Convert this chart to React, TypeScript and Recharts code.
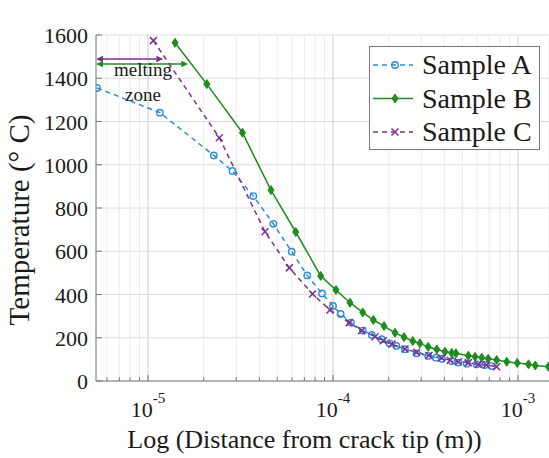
import { LineChart, Line, XAxis, YAxis, CartesianGrid, ReferenceLine } from "recharts";

// distances in metres, temperatures in °C
const sampleADist = [
  5.3e-6, 1.16e-5, 2.27e-5, 2.86e-5, 3.71e-5, 4.76e-5, 5.98e-5, 7.26e-5, 8.72e-5, 1.0e-4,
  1.1e-4, 1.25e-4, 1.45e-4, 1.62e-4, 1.83e-4, 2.02e-4, 2.2e-4, 2.45e-4, 2.83e-4, 3.27e-4,
  3.6e-4, 3.87e-4, 4.38e-4, 4.76e-4, 5.29e-4, 5.99e-4, 6.63e-4, 7.21e-4,
];
const sampleATemp = [
  1355, 1241, 1043, 971, 855, 727, 598, 488, 405, 347,
  310, 270, 233, 213, 193, 174, 162, 147, 128, 116,
  108, 103, 92, 85, 80, 77, 74, 69,
];

const sampleBDist = [
  1.4e-5, 2.08e-5, 3.24e-5, 4.62e-5, 6.29e-5, 8.58e-5, 1.038e-4, 1.236e-4, 1.448e-4, 1.653e-4,
  1.888e-4, 2.164e-4, 2.42e-4, 2.7e-4, 2.95e-4, 3.27e-4, 3.64e-4, 4.03e-4, 4.38e-4, 4.62e-4,
  5.39e-4, 5.86e-4, 6.37e-4, 6.9e-4, 7.67e-4, 8.69e-4, 9.91e-4, 1.14e-3, 1.24e-3, 1.46e-3,
];
const sampleBTemp = [
  1564, 1373, 1148, 883, 689, 486, 421, 362, 317, 282,
  254, 223, 203, 185, 174, 158, 146, 135, 130, 128,
  117, 112, 108, 103, 97, 89, 83, 77, 72, 66,
];

const sampleCDist = [
  1.07e-5, 2.43e-5, 4.29e-5, 5.81e-5, 7.76e-5, 9.63e-5, 1.225e-4, 1.43e-4, 1.687e-4, 1.87e-4,
  2.08e-4, 2.45e-4, 2.83e-4, 3.3e-4, 3.87e-4, 4.3e-4, 4.76e-4, 5.39e-4, 6.1e-4, 6.75e-4, 7.67e-4,
];
const sampleCTemp = [
  1574, 1125, 690, 523, 402, 328, 270, 233, 205, 186,
  171, 148, 133, 118, 106, 96, 89, 85, 77, 74, 66,
];

const majorX = [1e-5, 1e-4, 1e-3];
const minorX = [
  6e-6, 7e-6, 8e-6, 9e-6,
  2e-5, 3e-5, 4e-5, 5e-5, 6e-5, 7e-5, 8e-5, 9e-5,
  2e-4, 3e-4, 4e-4, 5e-4, 6e-4, 7e-4, 8e-4, 9e-4,
];
const allX = [...majorX, ...minorX].sort((a, b) => a - b);
const yTicks = [0, 200, 400, 600, 800, 1000, 1200, 1400, 1600];
const xDomain = [5.235e-6, 1.471e-3];

// melting zone arrows
const meltC = { from: 5.235e-6, to: 1.21e-5, temp: 1489 };
const meltB = { from: 5.235e-6, to: 1.65e-5, temp: 1466 };

const BLUE = "#2b8cd8";
const GREEN = "#1f8c1f";
const PURPLE = "#7e2f8e";
const AXIS = "#7a7a7a";
const TEXT = "#1a1a1a";
const SERIF = "'Liberation Serif', 'Times New Roman', serif";

const rows = (d: number[], t: number[]) => d.map((x, i) => ({ x, y: t[i] }));
const rowsA = rows(sampleADist, sampleATemp);
const rowsB = rows(sampleBDist, sampleBTemp);
const rowsC = rows(sampleCDist, sampleCTemp);

const circleDot = (p: any) => (
  <circle key={`a${p.index}`} cx={p.cx} cy={p.cy} r={3.2} fill="none" stroke={BLUE} strokeWidth={1.4} strokeDasharray="none" />
);
const diamondDot = (p: any) => (
  <polygon
    key={`b${p.index}`}
    points={`${p.cx},${p.cy - 4.5} ${p.cx + 3},${p.cy} ${p.cx},${p.cy + 4.5} ${p.cx - 3},${p.cy}`}
    fill={GREEN}
    stroke={GREEN}
    strokeWidth={1}
  />
);
const crossDot = (p: any) => (
  <g key={`c${p.index}`} stroke={PURPLE} strokeWidth={1.5}>
    <line x1={p.cx - 3.5} y1={p.cy - 3.5} x2={p.cx + 3.5} y2={p.cy + 3.5} />
    <line x1={p.cx - 3.5} y1={p.cy + 3.5} x2={p.cx + 3.5} y2={p.cy - 3.5} />
  </g>
);

function BottomTick({ x, y, payload }: any) {
  const major = majorX.includes(payload.value);
  const exp = Math.round(Math.log10(payload.value));
  return (
    <g>
      <line x1={x} y1={y} x2={x} y2={y - (major ? 6 : 4)} stroke={AXIS} />
      {major && (
        <text x={x} y={y + 36} textAnchor="middle" fontFamily={SERIF} fontSize={22} fill={TEXT}>
          10
          <tspan dy={-14} fontSize={15}>{`-${-exp}`}</tspan>
        </text>
      )}
    </g>
  );
}

function TopTick({ x, y, payload }: any) {
  const major = majorX.includes(payload.value);
  return <line x1={x} y1={y} x2={x} y2={y + (major ? 6 : 4)} stroke={AXIS} />;
}

function LeftTick({ x, y, payload }: any) {
  return (
    <g>
      <line x1={x} y1={y} x2={x + 6} y2={y} stroke={AXIS} />
      <text x={x - 8} y={y + 8} textAnchor="end" fontFamily={SERIF} fontSize={22} fill={TEXT}>
        {payload.value}
      </text>
    </g>
  );
}

function RightTick({ x, y }: any) {
  return <line x1={x} y1={y} x2={x - 6} y2={y} stroke={AXIS} />;
}

function arrow(color: string, withText: boolean) {
  return (p: any) => {
    const { x1, y1, x2, y2 } = p;
    const h = 7;
    const w = 3.2;
    return (
      <g>
        <line x1={x1 + h} y1={y1} x2={x2 - h} y2={y2} stroke={color} strokeWidth={1.6} />
        <polygon points={`${x1},${y1} ${x1 + h},${y1 - w} ${x1 + h},${y1 + w}`} fill={color} />
        <polygon points={`${x2},${y2} ${x2 - h},${y2 - w} ${x2 - h},${y2 + w}`} fill={color} />
        {withText && (
          <g fontFamily={SERIF} fontSize={19} fill={TEXT} textAnchor="middle">
            <text x={x1 + 47} y={y1 + 12}>melting</text>
            <text x={x1 + 47} y={y1 + 37}>zone</text>
          </g>
        )}
      </g>
    );
  };
}

const legendItems = [
  { name: "Sample A", color: BLUE, dash: "5 4", kind: "circle" },
  { name: "Sample B", color: GREEN, dash: undefined, kind: "diamond" },
  { name: "Sample C", color: PURPLE, dash: "5 4", kind: "cross" },
];

function LegendBox() {
  return (
    <div
      style={{
        position: "absolute",
        left: 369,
        top: 46,
        width: 171,
        height: 104,
        boxSizing: "border-box",
        border: `1px solid ${AXIS}`,
        background: "#fff",
      }}
    >
      <svg width={169} height={102} style={{ display: "block" }}>
        {legendItems.map((it, i) => {
          const cy = 18 + i * 33.5;
          const cx = 25;
          return (
            <g key={it.name}>
              <line x1={3} y1={cy} x2={43} y2={cy} stroke={it.color} strokeWidth={1.5} strokeDasharray={it.dash} />
              {it.kind === "circle" && circleDot({ cx, cy, index: "l" })}
              {it.kind === "diamond" && diamondDot({ cx, cy, index: "l" })}
              {it.kind === "cross" && crossDot({ cx, cy, index: "l" })}
              <text x={52} y={cy + 9} fontFamily={SERIF} fontSize={28} fill={TEXT}>
                {it.name}
              </text>
            </g>
          );
        })}
      </svg>
    </div>
  );
}

export default function App() {
  return (
    <div style={{ position: "absolute", left: 0, top: 0, width: 549, height: 458, background: "#fff" }}>
      <LineChart width={549} height={458} margin={{ top: 35, right: 0, bottom: 0, left: 0 }}>
        <CartesianGrid horizontal={false} stroke="#ececec" strokeWidth={1} />
        {yTicks.map((v) => (
          <ReferenceLine key={`h${v}`} y={v} stroke="#dcdcdc" />
        ))}
        {majorX.map((v) => (
          <ReferenceLine key={`v${v}`} x={v} stroke="#d6d6d6" />
        ))}
        <XAxis
          dataKey="x"
          type="number"
          scale="log"
          domain={xDomain}
          allowDataOverflow
          ticks={allX}
          interval={0}
          height={77}
          tickSize={0}
          tickMargin={0}
          tickLine={false}
          axisLine={{ stroke: AXIS }}
          tick={<BottomTick />}
          label={(props: any) => {
            const vb = props.viewBox;
            return (
              <text
                x={vb.x + vb.width / 2 - 18}
                y={vb.y + 67}
                textAnchor="middle"
                fontFamily={SERIF}
                fontSize={26}
                fill={TEXT}
              >
                Log (Distance from crack tip (m))
              </text>
            );
          }}
        />
        <XAxis
          xAxisId="top"
          orientation="top"
          type="number"
          scale="log"
          domain={xDomain}
          allowDataOverflow
          ticks={allX}
          interval={0}
          height={0}
          tickSize={0}
          tickMargin={0}
          tickLine={false}
          axisLine={{ stroke: AXIS }}
          tick={<TopTick />}
        />
        <YAxis
          type="number"
          domain={[0, 1600]}
          ticks={yTicks}
          interval={0}
          width={96}
          tickSize={0}
          tickMargin={0}
          tickLine={false}
          axisLine={{ stroke: AXIS }}
          tick={<LeftTick />}
          label={(props: any) => {
            const vb = props.viewBox;
            const cy = vb.y + vb.height / 2 + 12;
            return (
              <text
                transform={`translate(${vb.x + 29}, ${cy}) rotate(-90)`}
                textAnchor="middle"
                fontFamily={SERIF}
                fontSize={29}
                fill={TEXT}
              >
                Temperature (° C)
              </text>
            );
          }}
        />
        <YAxis
          yAxisId="right"
          orientation="right"
          type="number"
          domain={[0, 1600]}
          ticks={yTicks}
          interval={0}
          width={0}
          tickSize={0}
          tickMargin={0}
          tickLine={false}
          axisLine={{ stroke: AXIS }}
          tick={<RightTick />}
        />
        <ReferenceLine
          segment={[
            { x: meltC.from, y: meltC.temp },
            { x: meltC.to, y: meltC.temp },
          ]}
          ifOverflow="visible"
          shape={arrow(PURPLE, false)}
        />
        <ReferenceLine
          segment={[
            { x: meltB.from, y: meltB.temp },
            { x: meltB.to, y: meltB.temp },
          ]}
          ifOverflow="visible"
          shape={arrow(GREEN, true)}
        />
        <Line
          data={rowsA}
          dataKey="y"
          type="linear"
          stroke={BLUE}
          strokeWidth={1.5}
          strokeDasharray="5 4"
          dot={circleDot}
          activeDot={false}
          isAnimationActive={false}
        />
        <Line
          data={rowsB}
          dataKey="y"
          type="linear"
          stroke={GREEN}
          strokeWidth={1.5}
          dot={diamondDot}
          activeDot={false}
          isAnimationActive={false}
        />
        <Line
          data={rowsC}
          dataKey="y"
          type="linear"
          stroke={PURPLE}
          strokeWidth={1.5}
          strokeDasharray="5 4"
          dot={crossDot}
          activeDot={false}
          isAnimationActive={false}
        />
      </LineChart>
      <LegendBox />
    </div>
  );
}
